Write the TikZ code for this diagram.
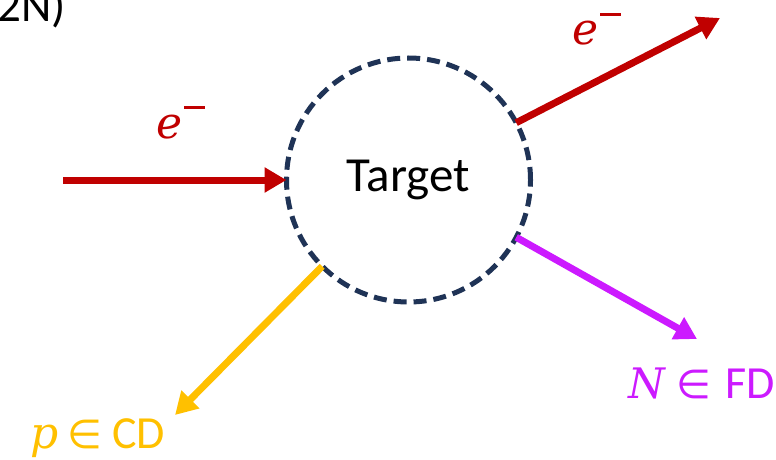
\documentclass[tikz,border=0pt]{standalone}
\usepackage{fontspec}
\setmainfont{Carlito}
\newfontfamily\mvar{DejaVu Serif}[UprightFont=* Italic]
\newfontfamily\msym{DejaVu Sans}
\usetikzlibrary{arrows.meta}
\definecolor{cred}{HTML}{C00000}
\definecolor{corange}{HTML}{FFC000}
\definecolor{cmag}{HTML}{CC1AFF}
\definecolor{cnavy}{HTML}{1F3356}
\newcommand{\elec}{{\fontsize{44}{48}\mvar e}\kern2pt\raisebox{29pt}{\rule{21pt}{2.6pt}}}
\tikzset{
  beam/.style={line width=7pt, -{Triangle[length=22pt,width=24pt]}},
  lbl/.style={inner sep=0pt, anchor=base west},
}
\begin{document}
\begin{tikzpicture}[x=1pt,y=-1pt]
\useasboundingbox (0,0) rectangle (776,460);
\node[circle, draw=cnavy, line width=5pt, dash pattern=on 13pt off 7pt,
      minimum size=244pt, inner sep=0pt, outer sep=0pt,
      font=\fontsize{49}{52}\selectfont] (T) at (408.5,180) {Target};
\coordinate (ein) at (63,180);
\coordinate (eout) at (720,18);
\coordinate (nout) at (697,339);
\coordinate (pout) at (175,415);
\draw[beam, cred] (ein) -- (T.west);
\draw[beam, cred] (T.28) -- (eout);
\draw[beam, cmag] (T.-28.6) -- (nout);
\draw[beam, corange] (T.225.5) -- (pout);
\node[lbl, text=cred] (el) at (156,138) {\elec};
\node[lbl, text=cred] (er) at (572,45) {\elec};
\node[lbl, text=corange, font=\fontsize{46}{50}\selectfont] (pl) at (30,448)
  {{\fontsize{44}{48}\mvar p}\kern9pt{\fontsize{40}{44}\msym ∈}\kern10pt CD};
\node[lbl, text=cmag, font=\fontsize{46}{50}\selectfont] (nl) at (628,398)
  {{\fontsize{42}{48}\mvar N}\kern12pt{\fontsize{40}{44}\msym ∈}\kern14pt FD};
\node[lbl, font=\fontsize{47}{50}\selectfont] (top) at (-3,22) {2N)};
\end{tikzpicture}
\end{document}
